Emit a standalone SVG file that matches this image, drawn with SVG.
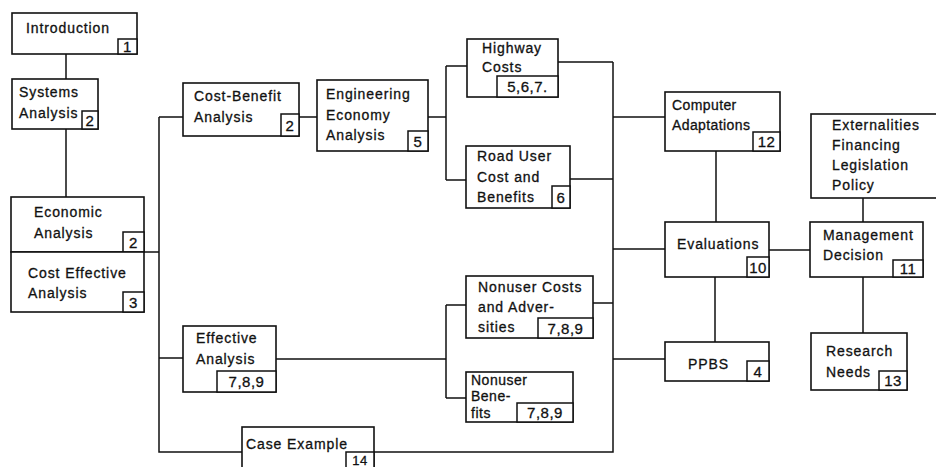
<svg xmlns="http://www.w3.org/2000/svg" width="936" height="467" viewBox="0 0 936 467">
<style>
.box{fill:#fff;stroke:#111;stroke-width:1.6}
.bd{fill:#fff;stroke:#111;stroke-width:1.5}
.ln{fill:none;stroke:#111;stroke-width:1.5}
text{font-family:"Liberation Sans",Arial,sans-serif;font-size:14px;fill:#111;stroke:#111;stroke-width:0.3;letter-spacing:0.9px}
.n{text-anchor:middle;letter-spacing:0.5px;font-size:15px}
</style>
<rect width="936" height="467" fill="#fff"/>
<g id="connectors">
<path class="ln" d="M66 54V79M66 129V197"/>
<path class="ln" d="M144 252H159M159 117V452H242M159 117H183M159 358H183"/>
<path class="ln" d="M299 117H317M428 117H446M446 66V180M446 66H467M446 180H466"/>
<path class="ln" d="M276 359H446M446 305V398M446 305H466M446 398H466"/>
<path class="ln" d="M558 62H613M613 62V452H374M570 179H613M593 303H613"/>
<path class="ln" d="M613 117H665M613 249H665M613 359H665M716 151V222M715 277V342"/>
<path class="ln" d="M769 250H810M863 198V222M863 277V333"/>
</g>
<g id="introduction"><rect class="box" x="12" y="13" width="125" height="41"/><text x="26" y="33">Introduction</text><rect class="bd" x="118" y="39" width="19" height="15"/><text class="n" x="127.5" y="52">1</text></g>
<g id="systems-analysis"><rect class="box" x="12" y="79" width="86" height="50"/><text x="19" y="97">Systems</text><text x="19" y="118">Analysis</text><rect class="bd" x="82" y="111" width="16" height="18"/><text class="n" x="90" y="126">2</text></g>
<g id="economic-analysis"><rect class="box" x="11" y="197" width="133" height="55"/><text x="34" y="217">Economic</text><text x="34" y="238">Analysis</text><rect class="bd" x="123" y="232" width="21" height="20"/><text class="n" x="133.5" y="248">2</text></g>
<g id="cost-effective-analysis"><rect class="box" x="11" y="252" width="133" height="60"/><text x="28" y="278">Cost Effective</text><text x="28" y="298">Analysis</text><rect class="bd" x="123" y="292" width="21" height="20"/><text class="n" x="133.5" y="308">3</text></g>
<g id="cost-benefit-analysis"><rect class="box" x="183" y="83" width="116" height="53"/><text x="194" y="101">Cost-Benefit</text><text x="194" y="122">Analysis</text><rect class="bd" x="281" y="114" width="18" height="22"/><text class="n" x="290" y="131">2</text></g>
<g id="engineering-economy-analysis"><rect class="box" x="317" y="80" width="111" height="71"/><text x="326" y="99">Engineering</text><text x="326" y="120">Economy</text><text x="326" y="140">Analysis</text><rect class="bd" x="408" y="131" width="20" height="20"/><text class="n" x="418" y="147">5</text></g>
<g id="highway-costs"><rect class="box" x="467" y="39" width="91" height="58"/><text x="482" y="53">Highway</text><text x="482" y="72">Costs</text><rect class="bd" x="497" y="76" width="61" height="21"/><text class="n" x="527.5" y="92">5,6,7.</text></g>
<g id="road-user-cost-benefits"><rect class="box" x="466" y="146" width="104" height="62"/><text x="477" y="161">Road User</text><text x="477" y="182">Cost and</text><text x="477" y="202">Benefits</text><rect class="bd" x="552" y="186" width="18" height="22"/><text class="n" x="561" y="203">6</text></g>
<g id="computer-adaptations"><rect class="box" x="665" y="92" width="115" height="59"/><text x="672" y="110" style="letter-spacing:0.4px">Computer</text><text x="672" y="130" style="letter-spacing:0.4px">Adaptations</text><rect class="bd" x="753" y="132" width="27" height="19"/><text class="n" x="766.5" y="147">12</text></g>
<g id="externalities"><rect class="box" x="811" y="114" width="130" height="84"/><text x="832" y="130">Externalities</text><text x="832" y="150">Financing</text><text x="832" y="170">Legislation</text><text x="832" y="190">Policy</text></g>
<g id="evaluations"><rect class="box" x="665" y="222" width="104" height="55"/><text x="677" y="249">Evaluations</text><rect class="bd" x="747" y="257" width="22" height="20"/><text class="n" x="758" y="273">10</text></g>
<g id="management-decision"><rect class="box" x="810" y="222" width="113" height="55"/><text x="823" y="240">Management</text><text x="823" y="260">Decision</text><rect class="bd" x="893" y="260" width="30" height="17"/><text class="n" x="908" y="274">11</text></g>
<g id="research-needs"><rect class="box" x="811" y="333" width="96" height="57"/><text x="826" y="356">Research</text><text x="826" y="377">Needs</text><rect class="bd" x="879" y="371" width="28" height="19"/><text class="n" x="893" y="386">13</text></g>
<g id="ppbs"><rect class="box" x="665" y="342" width="104" height="39"/><text x="688" y="369">PPBS</text><rect class="bd" x="747" y="361" width="22" height="20"/><text class="n" x="758" y="377">4</text></g>
<g id="nonuser-costs"><rect class="box" x="466" y="276" width="127" height="62"/><text x="478" y="292">Nonuser Costs</text><text x="478" y="312">and Adver-</text><text x="478" y="332">sities</text><rect class="bd" x="538" y="318" width="55" height="20"/><text class="n" x="565.5" y="334">7,8,9</text></g>
<g id="nonuser-benefits"><rect class="box" x="466" y="372" width="107" height="50"/><text x="471" y="385" style="letter-spacing:0.5px">Nonuser</text><text x="471" y="401" style="letter-spacing:0.5px">Bene-</text><text x="471" y="418" style="letter-spacing:0.5px">fits</text><rect class="bd" x="517" y="403" width="56" height="19"/><text class="n" x="545" y="418">7,8,9</text></g>
<g id="effective-analysis"><rect class="box" x="183" y="326" width="93" height="66"/><text x="196" y="343">Effective</text><text x="196" y="364">Analysis</text><rect class="bd" x="217" y="371" width="59" height="21"/><text class="n" x="246.5" y="387">7,8,9</text></g>
<g id="case-example"><rect class="box" x="242" y="427" width="132" height="50"/><text x="246" y="449">Case Example</text><rect class="bd" x="346" y="452" width="28" height="25"/><text class="n" x="360" y="465" style="font-size:13px">14</text></g>
</svg>
